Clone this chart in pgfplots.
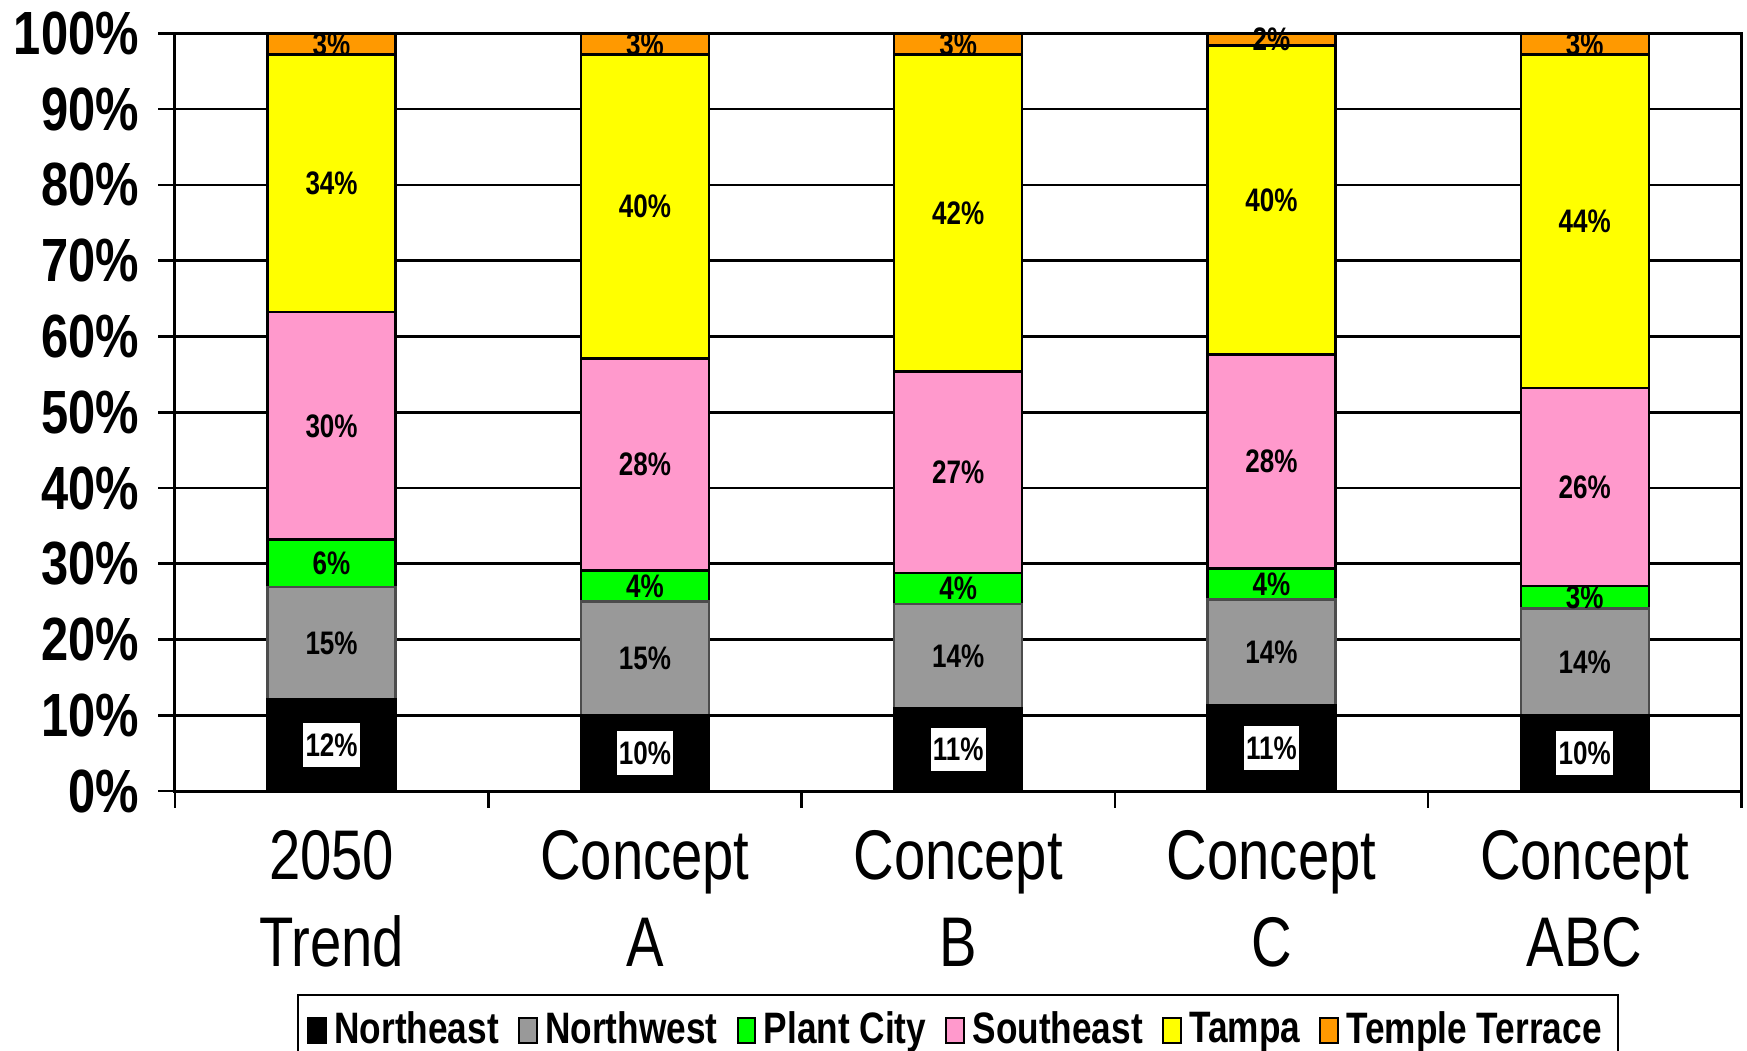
\documentclass[border=0pt]{standalone}
\usepackage{fontspec}
\setmainfont{Liberation Sans}[FakeStretch=0.8]
\usepackage{pgfplots}
\pgfplotsset{compat=1.18}
\definecolor{cNE}{HTML}{000000}
\definecolor{cNW}{HTML}{999999}
\definecolor{cPC}{HTML}{00FF00}
\definecolor{cSE}{HTML}{FF99CC}
\definecolor{cTA}{HTML}{FFFF00}
\definecolor{cTT}{HTML}{FF9900}
\pgfplotsset{
  mylegend/.style={legend image code/.code={\draw[##1,draw=black,line width=0.5bp] (-1.0bp,-3.3bp) rectangle (3.8bp,3.3bp);}},
}
\begin{document}
\begin{tikzpicture}
\begin{axis}[
  scale only axis, width=421.8bp, height=204bp,
  ybar stacked, bar width=34.5bp,
  xmin=-0.5, xmax=4.5, ymin=0, ymax=100,
  axis line style={line width=0.8bp},
  xtick pos=bottom, ytick pos=left,
  ytick={0,10,...,100},
  yticklabels={0\%,10\%,20\%,30\%,40\%,50\%,60\%,70\%,80\%,90\%,100\%},
  ymajorgrids, grid style={black, line width=0.7bp},
  tick align=outside, major tick length=4.5bp, tick style={black, line width=0.7bp},
  xtick={-0.5,0.5,1.5,2.5,3.5,4.5}, xticklabels={,,,,,},
  extra x ticks={0,1,2,3,4},
  extra x tick labels={{2050\\Trend},{Concept\\A},{Concept\\B},{Concept\\C},{Concept\\ABC}},
  extra x tick style={major tick length=0pt},
  xticklabel style={align=center, font=\fontsize{19}{23.4}\selectfont, inner sep=0pt, anchor=north, yshift=-10.5bp},
  yticklabel style={font=\bfseries\fontsize{16.5}{18}\selectfont, inner sep=0pt, anchor=east, xshift=-5bp},
  point meta=explicit symbolic,
  nodes near coords,
  every node near coord/.append style={font=\bfseries\fontsize{8.8}{10}\selectfont, anchor=center, inner sep=0.5bp},
  legend style={draw=black, line width=0.6bp, legend columns=-1,
    font=\bfseries\fontsize{11.9}{14}\selectfont,
    at={(0.5,-0.2676)}, anchor=north,
    /tikz/every even column/.append style={column sep=3.2bp},
    inner xsep=2.5bp, inner ysep=2.5bp},
]
\addplot[fill=cNE, draw=black, line width=0.65bp, mylegend, every node near coord/.append style={fill=white, text=black, inner xsep=0.6bp, inner ysep=2.8bp}] coordinates {
  (0,12.1) [12\%] (1,10.0) [10\%] (2,11.0) [11\%] (3,11.3) [11\%] (4,10.0) [10\%]};
\addplot[fill=cNW, draw=black!70, line width=0.65bp, mylegend] coordinates {
  (0,14.8) [15\%] (1,15.0) [15\%] (2,13.7) [14\%] (3,14.0) [14\%] (4,14.1) [14\%]};
\addplot[fill=cPC, draw=black, line width=0.65bp, mylegend] coordinates {
  (0,6.3) [6\%] (1,4.1) [4\%] (2,4.1) [4\%] (3,4.1) [4\%] (4,3.0) [3\%]};
\addplot[fill=cSE, draw=black, line width=0.65bp, mylegend] coordinates {
  (0,30.0) [30\%] (1,28.0) [28\%] (2,26.6) [27\%] (3,28.2) [28\%] (4,26.1) [26\%]};
\addplot[fill=cTA, draw=black, line width=0.65bp, mylegend] coordinates {
  (0,34.0) [34\%] (1,40.1) [40\%] (2,41.8) [42\%] (3,40.8) [40\%] (4,44.0) [44\%]};
\addplot[fill=cTT, draw=black, line width=0.65bp, mylegend] coordinates {
  (0,2.8) [3\%] (1,2.8) [3\%] (2,2.8) [3\%] (3,1.6) [2\%] (4,2.8) [3\%]};
\legend{Northeast,Northwest,Plant City,Southeast,Tampa,Temple Terrace}
\end{axis}
\pgfresetboundingbox
\path[use as bounding box] ([xshift=-47.1bp,yshift=-69.9bp]current axis.south west) rectangle ([xshift=1.5bp,yshift=9bp]current axis.north east);
\end{tikzpicture}
\end{document}
